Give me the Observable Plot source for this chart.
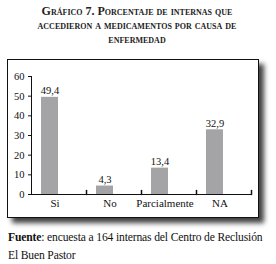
<!DOCTYPE html>
<html>
<head>
<meta charset="utf-8">
<script src="https://cdn.jsdelivr.net/npm/d3@7"></script>
<script src="https://cdn.jsdelivr.net/npm/@observablehq/plot@0.6"></script>
<style>
  html, body { margin: 0; padding: 0; background: #fff; }
  body { width: 276px; height: 264px; position: relative; overflow: hidden; font-family: 'Liberation Serif', 'Times New Roman', Times, serif; }
  #title { position: absolute; left: 0; top: 4px; width: 274px; text-align: center; font-variant: small-caps; font-weight: bold; font-size: 12px; line-height: 14px; color: #222; font-family: 'Liberation Serif', 'Times New Roman', Times, serif; }
  #box { position: absolute; left: 7px; top: 59px; width: 250px; height: 157px; border: 1px solid #111; background: #fff; box-shadow: 5px 5px 5px rgba(0,0,0,0.75); }
  #caption { position: absolute; left: 8px; top: 229px; width: 268px; font-size: 11.6px; line-height: 18px; color: #111; letter-spacing: -0.15px; white-space: nowrap; font-family: 'Liberation Serif', 'Times New Roman', Times, serif; }
  #caption b { font-weight: bold; }
</style>
</head>
<body>
<div id="title">Gráfico 7. Porcentaje de internas que<br>accedieron a medicamentos por causa de<br>enfermedad</div>
<div id="box"></div>
<div id="caption"><b>Fuente</b>: encuesta a 164 internas del Centro de Reclusión<br>El Buen Pastor</div>
<script>
const categories = ["Si", "No", "Parcialmente", "NA"];
const values = [49.4, 4.3, 13.4, 32.9];
const valueLabels = ["49,4", "4,3", "13,4", "32,9"];
const yTicks = [0, 10, 20, 30, 40, 50, 60];

const data = categories.map((c, i) => ({cat: c, value: values[i], label: valueLabels[i]}));

const W = 250, H = 157, mL = 23, mR = 7, mT = 16, mB = 23;
const step = (W - mL - mR) / categories.length;
const insetL = 10, insetR = 28;
const barShift = (insetL - insetR) / 2;

const tickShape = {
  draw(context, l) { context.moveTo(0, 0); context.lineTo(0, -l); }
};

const chart = Plot.plot({
  width: W,
  height: H,
  marginLeft: mL,
  marginRight: mR,
  marginTop: mT,
  marginBottom: mB,
  style: { fontFamily: "'Liberation Serif', 'Times New Roman', Times, serif", fontSize: "10.5px", color: "#111", background: "transparent" },
  x: { domain: categories, padding: 0, tickSize: 0, tickPadding: 5, label: null },
  y: { domain: [0, 60], ticks: yTicks, tickSize: 3, tickPadding: 4, label: null, line: true, tickFormat: d => String(d) },
  marks: [
    Plot.barY(data, { x: "cat", y: "value", fill: "#a4a4a7", insetLeft: insetL, insetRight: insetR }),
    Plot.text(data, { x: "cat", y: "value", text: "label", dx: barShift, dy: -3, lineAnchor: "bottom", fontSize: 10.5 }),
    Plot.ruleY([0], { stroke: "#111" }),
    Plot.vector(categories, { x: d => d, y: 0, length: 4, rotate: 0, anchor: "start", dx: step / 2, shape: tickShape, stroke: "#111" }),
    Plot.axisX({ tickSize: 0, tickPadding: 5, dx: -4, fontSize: 11, label: null })
  ]
});
document.getElementById("box").appendChild(chart);
</script>
</body>
</html>
